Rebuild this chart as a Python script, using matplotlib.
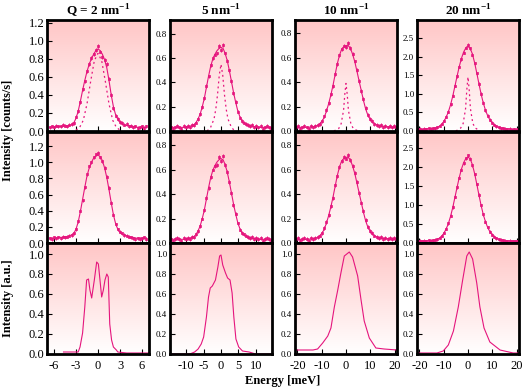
import numpy as np
import matplotlib
matplotlib.use("Agg")
import matplotlib.pyplot as plt
from matplotlib.colors import LinearSegmentedColormap
from matplotlib.ticker import FormatStrFormatter

# ---- data ----
titles = [r"Q = 2 nm$^{\mathbf{-1}}$", r"5 nm$^{\mathbf{-1}}$", r"10 nm$^{\mathbf{-1}}$", r"20 nm$^{\mathbf{-1}}$"]

# energy channels (meV)
e_q2 = [-6.6, -6.3, -6.0, -5.7, -5.4, -5.1, -4.8, -4.5, -4.2, -3.9, -3.6,
        -3.3, -3.0, -2.7, -2.4, -2.1, -1.8, -1.5, -1.2, -0.9, -0.6, -0.3,
        0.0,
        0.3, 0.6, 0.9, 1.2, 1.5, 1.8, 2.1, 2.4, 2.7, 3.0, 3.3,
        3.6, 3.9, 4.2, 4.5, 4.8, 5.1, 5.4, 5.7, 6.0, 6.3, 6.6]
e_q5 = [-14.4, -13.8, -13.2, -12.6, -12.0, -11.4, -10.8, -10.2, -9.6, -9.0, -8.4, -7.8,
        -7.2, -6.6, -6.0, -5.4, -4.8, -4.2, -3.6, -3.0, -2.4, -1.8, -1.2, -0.6,
        0.0,
        0.6, 1.2, 1.8, 2.4, 3.0, 3.6, 4.2, 4.8, 5.4, 6.0, 6.6, 7.2,
        7.8, 8.4, 9.0, 9.6, 10.2, 10.8, 11.4, 12.0, 12.6, 13.2, 13.8, 14.4]
e_q10 = [-20.7, -19.8, -18.9, -18.0, -17.1, -16.2, -15.3, -14.4, -13.5, -12.6, -11.7,
         -10.8, -9.9, -9.0, -8.1, -7.2, -6.3, -5.4, -4.5, -3.6, -2.7, -1.8, -0.9,
         0.0,
         0.9, 1.8, 2.7, 3.6, 4.5, 5.4, 6.3, 7.2, 8.1, 9.0, 9.9, 10.8,
         11.7, 12.6, 13.5, 14.4, 15.3, 16.2, 17.1, 18.0, 18.9, 19.8, 20.7]
e_q20 = e_q10

# measured intensity, top row (counts/s)
top_q2 = [0.04, 0.05, 0.04, 0.06, 0.05, 0.05, 0.07, 0.06, 0.05, 0.07, 0.08,
          0.09, 0.16, 0.22, 0.32, 0.46, 0.55, 0.66, 0.74, 0.81, 0.85, 0.90,
          0.94,
          0.88, 0.82, 0.79, 0.74, 0.58, 0.40, 0.25, 0.17, 0.13, 0.10, 0.09,
          0.07, 0.08, 0.05, 0.06, 0.04, 0.05, 0.03, 0.04, 0.05, 0.03, 0.05]
top_q5 = [0.03, 0.02, 0.03, 0.04, 0.03, 0.02, 0.04, 0.03, 0.04, 0.03, 0.05, 0.05,
          0.07, 0.10, 0.14, 0.20, 0.27, 0.37, 0.45, 0.54, 0.60, 0.63, 0.64, 0.70,
          0.67,
          0.71, 0.64, 0.58, 0.50, 0.41, 0.31, 0.24, 0.16, 0.11, 0.08, 0.07, 0.06,
          0.05, 0.04, 0.05, 0.03, 0.04, 0.03, 0.04, 0.02, 0.03, 0.04, 0.03, 0.02]
top_q10 = [0.03, 0.04, 0.02, 0.03, 0.04, 0.03, 0.02, 0.04, 0.03, 0.04, 0.05,
           0.06, 0.08, 0.12, 0.17, 0.23, 0.30, 0.37, 0.47, 0.55, 0.62, 0.67, 0.70,
           0.69,
           0.72, 0.68, 0.63, 0.57, 0.50, 0.41, 0.33, 0.26, 0.19, 0.13, 0.10, 0.08,
           0.06, 0.05, 0.04, 0.05, 0.03, 0.04, 0.03, 0.04, 0.03, 0.04, 0.03]
top_q20 = [0.05, 0.06, 0.04, 0.06, 0.05, 0.07, 0.06, 0.07, 0.08, 0.10, 0.14,
           0.19, 0.27, 0.38, 0.52, 0.72, 0.95, 1.22, 1.47, 1.72, 1.93, 2.10, 2.24,
           2.32,
           2.22, 2.05, 1.82, 1.55, 1.27, 1.00, 0.76, 0.56, 0.41, 0.30, 0.22, 0.17,
           0.13, 0.10, 0.08, 0.07, 0.06, 0.05, 0.06, 0.04, 0.05, 0.04, 0.05]

# fitted total, top row
fit_q2 = [0.04, 0.04, 0.04, 0.05, 0.05, 0.05, 0.05, 0.06, 0.06, 0.06, 0.07,
          0.09, 0.14, 0.22, 0.33, 0.45, 0.56, 0.66, 0.74, 0.80, 0.85, 0.89,
          0.91,
          0.89, 0.85, 0.79, 0.70, 0.56, 0.40, 0.27, 0.18, 0.13, 0.10, 0.08,
          0.07, 0.06, 0.06, 0.05, 0.05, 0.05, 0.04, 0.04, 0.04, 0.04, 0.04]
fit_q5 = [0.03, 0.03, 0.03, 0.03, 0.03, 0.03, 0.03, 0.03, 0.035, 0.04, 0.045, 0.05,
          0.07, 0.10, 0.14, 0.20, 0.27, 0.36, 0.45, 0.53, 0.59, 0.63, 0.66, 0.68,
          0.69,
          0.68, 0.64, 0.58, 0.50, 0.41, 0.32, 0.24, 0.17, 0.12, 0.085, 0.065, 0.055,
          0.045, 0.04, 0.04, 0.035, 0.035, 0.03, 0.03, 0.03, 0.03, 0.03, 0.03, 0.03]
fit_q10 = [0.03, 0.03, 0.03, 0.03, 0.03, 0.03, 0.03, 0.035, 0.035, 0.04, 0.045,
           0.06, 0.08, 0.11, 0.16, 0.22, 0.29, 0.37, 0.46, 0.55, 0.62, 0.67, 0.69,
           0.70,
           0.70, 0.68, 0.63, 0.57, 0.49, 0.41, 0.33, 0.25, 0.18, 0.13, 0.10, 0.075,
           0.06, 0.05, 0.045, 0.04, 0.04, 0.035, 0.035, 0.03, 0.03, 0.03, 0.03]
fit_q20 = [0.05, 0.05, 0.05, 0.055, 0.06, 0.06, 0.065, 0.07, 0.08, 0.10, 0.13,
           0.18, 0.26, 0.37, 0.51, 0.70, 0.93, 1.20, 1.47, 1.73, 1.95, 2.12, 2.23,
           2.27,
           2.22, 2.07, 1.84, 1.56, 1.27, 0.99, 0.75, 0.56, 0.41, 0.30, 0.22, 0.16,
           0.12, 0.10, 0.08, 0.07, 0.06, 0.06, 0.055, 0.05, 0.05, 0.05, 0.05]

# narrow (dashed) component, top row
nx_q2 = [-3.0, -2.5, -2.0, -1.5, -1.0, -0.5, 0.0, 0.5, 1.0, 1.5, 2.0, 2.5, 3.0]
ny_q2 = [0.01, 0.04, 0.12, 0.30, 0.55, 0.78, 0.86, 0.78, 0.55, 0.30, 0.12, 0.04, 0.01]
nx_q5 = [-4.0, -3.0, -2.0, -1.5, -1.0, -0.5, 0.0, 0.5, 1.0, 1.5, 2.0, 3.0, 4.0]
ny_q5 = [0.0, 0.03, 0.10, 0.18, 0.30, 0.46, 0.55, 0.46, 0.30, 0.18, 0.10, 0.03, 0.0]
nx_q10 = [-5.0, -3.0, -2.0, -1.0, -0.5, 0.0, 0.5, 1.0, 2.0, 3.0, 5.0]
ny_q10 = [0.0, 0.02, 0.06, 0.17, 0.30, 0.39, 0.30, 0.17, 0.06, 0.02, 0.0]
nx_q20 = [-5.0, -3.0, -2.0, -1.0, -0.5, 0.0, 0.5, 1.0, 2.0, 3.0, 5.0]
ny_q20 = [0.0, 0.08, 0.20, 0.60, 1.10, 1.45, 1.10, 0.60, 0.20, 0.08, 0.0]

# middle row, Q = 2 (the other Q share the top-row data)
mid_q2 = [0.06, 0.05, 0.07, 0.06, 0.07, 0.06, 0.08, 0.07, 0.08, 0.09, 0.10,
          0.12, 0.17, 0.27, 0.40, 0.53, 0.69, 0.85, 0.95, 1.00, 1.06, 1.10,
          1.12,
          1.06, 1.01, 0.93, 0.82, 0.68, 0.50, 0.35, 0.23, 0.17, 0.14, 0.12,
          0.10, 0.09, 0.08, 0.07, 0.06, 0.05, 0.06, 0.05, 0.06, 0.07, 0.05]
midfit_q2 = [0.06, 0.06, 0.06, 0.06, 0.07, 0.07, 0.07, 0.08, 0.08, 0.09, 0.10,
             0.12, 0.17, 0.26, 0.39, 0.54, 0.69, 0.83, 0.93, 1.00, 1.05, 1.08,
             1.09,
             1.07, 1.02, 0.93, 0.81, 0.66, 0.50, 0.35, 0.24, 0.17, 0.13, 0.11,
             0.10, 0.09, 0.08, 0.07, 0.07, 0.06, 0.06, 0.06, 0.06, 0.06, 0.06]

# bottom row, model spectra (a.u.)
bx_q2 = [-4.7, -2.7, -2.45, -2.1, -1.8, -1.55, -1.3, -1.1, -0.86, -0.5, -0.18, 0.05,
         0.27, 0.5, 0.73, 0.95, 1.2, 1.4, 1.6, 1.85, 2.1, 2.5, 2.7, 3.9, 6.95]
by_q2 = [0.02, 0.02, 0.07, 0.21, 0.47, 0.74, 0.75, 0.64, 0.56, 0.74, 0.92, 0.90,
         0.74, 0.57, 0.64, 0.74, 0.80, 0.77, 0.30, 0.14, 0.07, 0.04, 0.02, 0.01, 0.01]
bx_q5 = [-14.7, -9.0, -7.6, -6.6, -5.7, -5.0, -4.2, -3.6, -3.1, -2.5, -1.6, -0.9, -0.4,
         0.0, 0.5, 1.3, 1.9, 2.6, 3.2, 3.7, 4.3, 5.1, 6.2, 8.1, 10.0, 14.7]
by_q5 = [0.0, 0.0, 0.02, 0.05, 0.10, 0.17, 0.37, 0.57, 0.66, 0.68, 0.74, 0.87, 0.98,
         0.99, 0.89, 0.81, 0.76, 0.74, 0.61, 0.37, 0.15, 0.07, 0.03, 0.02, 0.0, 0.0]
bx_q10 = [-21, -13.6, -11.7, -9.6, -7.5, -6.2, -4.8, -3.4, -2.1, -0.7, 1.35, 2.7,
          4.8, 6.2, 7.5, 9.6, 12.3, 15.7, 21]
by_q10 = [0.04, 0.04, 0.05, 0.11, 0.18, 0.26, 0.47, 0.64, 0.81, 0.98, 1.02, 0.97,
          0.78, 0.54, 0.33, 0.16, 0.06, 0.05, 0.04]
bx_q20 = [-21, -12.8, -10.2, -8.1, -6.0, -4.0, -2.2, -0.5, 0.5, 1.9, 3.6, 4.9,
          6.6, 9.0, 13.2, 18.6, 21]
by_q20 = [0.01, 0.01, 0.03, 0.09, 0.23, 0.47, 0.74, 0.98, 1.02, 0.95, 0.71, 0.47,
          0.26, 0.12, 0.04, 0.01, 0.01]

errs = [0.02, 0.015, 0.015, 0.04]

# ---- layout ----
W, H = 524, 391
col_left = [47, 170, 295, 417]
col_w = 102
rows_px = [(20, 131), (132, 243), (243, 354)]
xlim = [6.95, 14.7, 21, 21]
xticks = [[-6, -3, 0, 3, 6], [-10, -5, 0, 5, 10], [-20, -10, 0, 10, 20], [-20, -10, 0, 10, 20]]
ylim = [[1.23, 0.915, 0.91, 2.98], [1.375, 0.907, 0.907, 2.93], [1.11, 1.11, 1.11, 1.11]]
ystep = [[0.2, 0.2, 0.2, 0.5], [0.2, 0.2, 0.2, 0.5], [0.2, 0.2, 0.2, 0.2]]
ytop = [[1.2, 0.8, 0.8, 2.5], [1.2, 0.8, 0.8, 2.5], [1.0, 1.0, 1.0, 1.0]]

c = "#e5157d"
plt.rcParams["font.family"] = ["Liberation Serif", "DejaVu Serif"]
plt.rcParams["axes.unicode_minus"] = False
plt.rcParams["mathtext.fontset"] = "custom"
plt.rcParams["mathtext.rm"] = "Liberation Serif"
plt.rcParams["mathtext.bf"] = "Liberation Serif:bold"

bg = LinearSegmentedColormap.from_list("bg", ["#ffffff", "#ffc6c6"])
grad = np.linspace(0, 1, 256).reshape(-1, 1)

fig = plt.figure(figsize=(W / 100, H / 100), dpi=100)

energies = [e_q2, e_q5, e_q10, e_q20]
tops = [top_q2, top_q5, top_q10, top_q20]
fits = [fit_q2, fit_q5, fit_q10, fit_q20]
narrow = [(nx_q2, ny_q2), (nx_q5, ny_q5), (nx_q10, ny_q10), (nx_q20, ny_q20)]
mids = [mid_q2, top_q5, top_q10, top_q20]
midfits = [midfit_q2, fit_q5, fit_q10, fit_q20]
bottoms = [(bx_q2, by_q2), (bx_q5, by_q5), (bx_q10, by_q10), (bx_q20, by_q20)]

for r, (t, b) in enumerate(rows_px):
    for j in range(4):
        ax = fig.add_axes([col_left[j] / W, 1 - b / H, col_w / W, (b - t) / H])
        ax.imshow(grad, extent=[0, 1, 0, 1], transform=ax.transAxes, cmap=bg,
                  aspect="auto", origin="lower", zorder=0, interpolation="bilinear")
        if r == 0:
            ax.plot(narrow[j][0], narrow[j][1], color=c, lw=0.9, ls=(0, (1.5, 2.5)), zorder=2)
            ax.plot(energies[j], fits[j], color=c, lw=0.8, zorder=2)
            ax.errorbar(energies[j], tops[j], yerr=errs[j], fmt="s", ms=1.6, mfc="none",
                        mec=c, mew=0.6, ecolor=c, elinewidth=0.7, capsize=0, zorder=3)
        elif r == 1:
            ax.plot(energies[j], midfits[j], color=c, lw=0.8, zorder=2)
            ax.errorbar(energies[j], mids[j], yerr=errs[j], fmt="s", ms=1.6, mfc="none",
                        mec=c, mew=0.6, ecolor=c, elinewidth=0.7, capsize=0, zorder=3)
        else:
            ax.plot(bottoms[j][0], bottoms[j][1], color=c, lw=0.8, zorder=2)

        ax.set_xlim(-xlim[j], xlim[j])
        ax.set_ylim(0, ylim[r][j])
        ax.set_xticks(xticks[j])
        ax.set_yticks(np.arange(0, ytop[r][j] + 1e-6, ystep[r][j]))
        ax.yaxis.set_major_formatter(FormatStrFormatter("%.1f"))
        ax.tick_params(direction="in", length=3.5, width=0.8, top=False, right=False)
        ax.tick_params(axis="y", labelsize=9 if j == 0 else 6.5, pad=2)
        ax.tick_params(axis="x", labelsize=9, pad=4)
        if r < 2:
            ax.set_xticklabels([])
        for s in ax.spines.values():
            s.set_linewidth(2)
            s.set_zorder(5)
        if r == 0:
            ax.set_title(titles[j], fontsize=9.5, fontweight="bold", pad=3)

fig.text(8 / W, 1 - 130 / H, "Intensity [counts/s]", rotation=90, ha="center", va="center",
         fontsize=9, fontweight="bold")
fig.text(8 / W, 1 - 298 / H, "Intensity [a.u.]", rotation=90, ha="center", va="center",
         fontsize=9, fontweight="bold")
fig.text(283 / W, 1 - 381 / H, "Energy [meV]", ha="center", va="center",
         fontsize=9, fontweight="bold")

fig.savefig("out.png", dpi=100)
